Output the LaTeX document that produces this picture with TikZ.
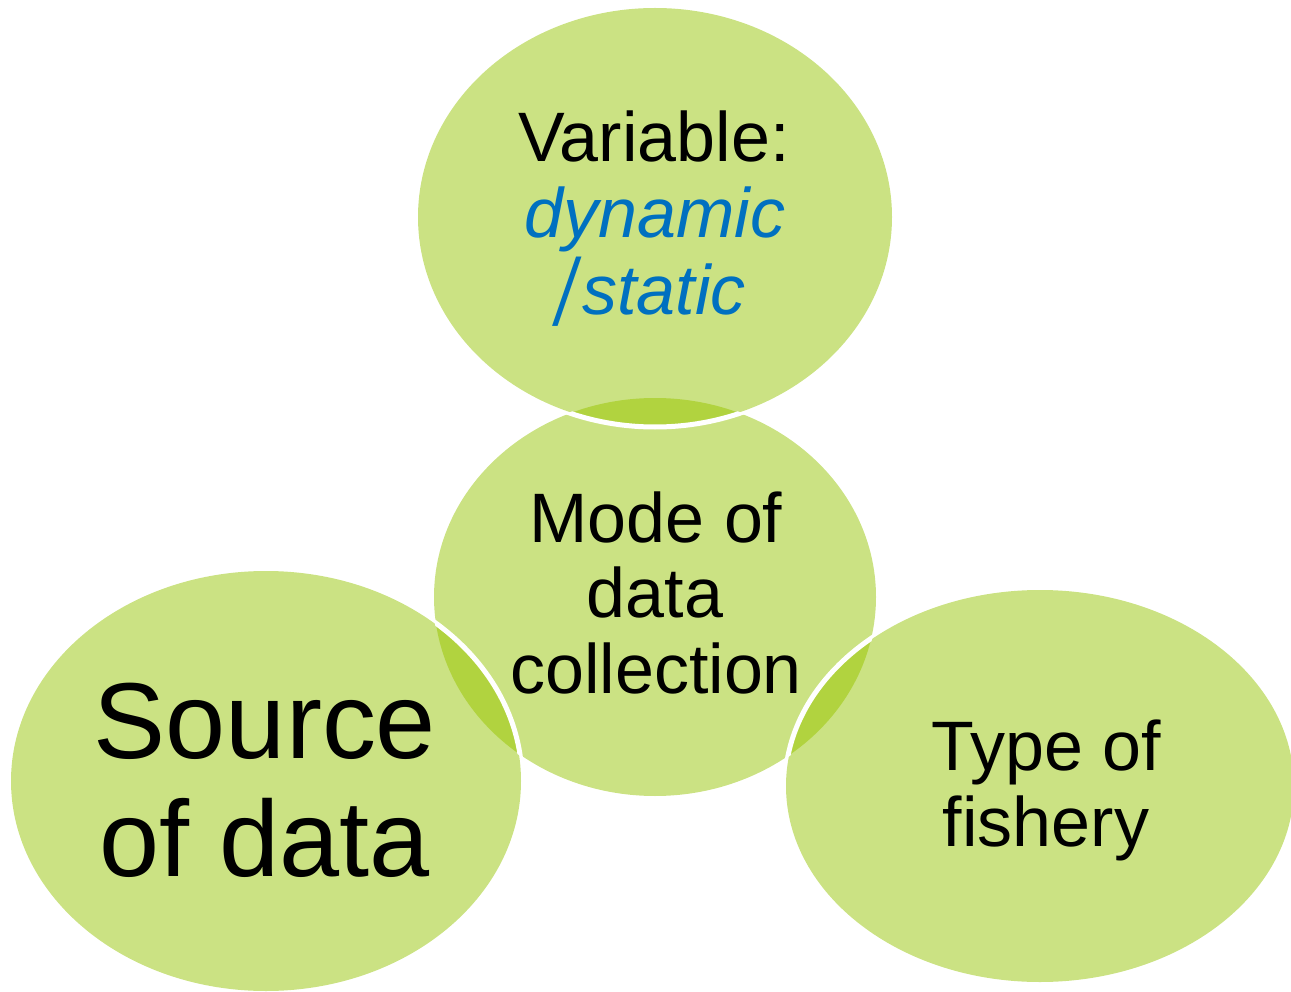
\documentclass[tikz,border=0pt]{standalone}
\usepackage{fontspec}
\setmainfont{Liberation Sans}
\definecolor{vlight}{HTML}{CBE283}
\definecolor{vdark}{HTML}{B1D33F}
\definecolor{vblue}{HTML}{0070C0}
\begin{document}
\begin{tikzpicture}[x=1pt,y=-1pt,
  lbl/.style={anchor=base,inner sep=0pt,font=\fontsize{70}{77}\selectfont},
  biglbl/.style={anchor=base,inner sep=0pt,font=\fontsize{108}{117}\selectfont},
  blulbl/.style={anchor=base,inner sep=0pt,text=vblue,font=\fontsize{70}{77}\selectfont\itshape},
  outl/.style={draw=white,line width=5pt}]
\useasboundingbox (0,0) rectangle (1291,992);
\clip (0,0) rectangle (1291,992);
% light fills
\fill[vlight] (655,597) ellipse [x radius=221pt, y radius=199pt];
\fill[vlight] (655,217) ellipse [x radius=237pt, y radius=209pt];
\fill[vlight] (266,781) ellipse [x radius=255pt, y radius=210pt];
\fill[vlight] (1040,786) ellipse [x radius=254pt, y radius=196pt];
% overlaps
\begin{scope}
  \clip (655,217) ellipse [x radius=237pt, y radius=209pt];
  \fill[vdark] (655,597) ellipse [x radius=221pt, y radius=199pt];
\end{scope}
\begin{scope}
  \clip (266,781) ellipse [x radius=255pt, y radius=210pt];
  \fill[vdark] (655,597) ellipse [x radius=221pt, y radius=199pt];
\end{scope}
\begin{scope}
  \clip (1040,786) ellipse [x radius=254pt, y radius=196pt];
  \fill[vdark] (655,597) ellipse [x radius=221pt, y radius=199pt];
\end{scope}
% white outlines, visible over the middle ellipse
\begin{scope}
  \clip (655,597) ellipse [x radius=222pt, y radius=200pt];
  \draw[outl] (655,217) ellipse [x radius=238pt, y radius=210pt];
  \draw[outl] (266,781) ellipse [x radius=256pt, y radius=211pt];
  \draw[outl] (1040,786) ellipse [x radius=255pt, y radius=197pt];
\end{scope}
% texts
\node[lbl] (var1) at (654,162) {Variable:};
\node[blulbl] (var2) at (655,238) {dynamic};
\node[blulbl] (var3) at (651,315) {\raisebox{-11pt}{\scalebox{1}[1.35]{/}}\hspace{7pt}static};
\node[lbl] (mode1) at (656,542) {Mode of};
\node[lbl] (mode2) at (655,617) {data};
\node[lbl] (mode3) at (656,693) {collection};
\node[biglbl] (src1) at (265,758) {Source};
\node[biglbl] (src2) at (265,876) {of data};
\node[lbl] (type1) at (1046,770) {Type of};
\node[lbl] (type2) at (1046,846) {fishery};
\end{tikzpicture}
\end{document}
